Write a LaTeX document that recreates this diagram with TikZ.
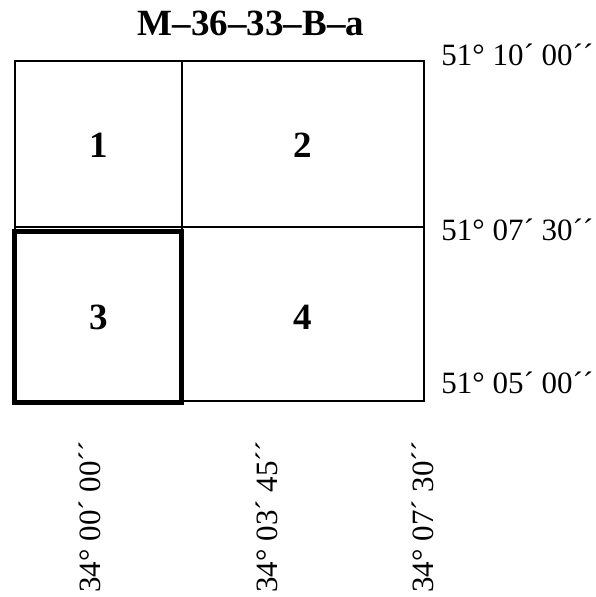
\documentclass[tikz,border=0pt]{standalone}
\usepackage{fontspec}
\setmainfont{Liberation Serif}
\begin{document}
\begin{tikzpicture}[x=1pt, y=-1pt, thick]
    \useasboundingbox (0,0) rectangle (595,597);
    % Sheet title
    \node[font=\fontsize{37}{40}\selectfont\bfseries, anchor=base] (title) at (251,35) {M–36–33–B–a};

    % Sheet frame split into quarters
    \draw[line width=1.3pt] (15,61) rectangle (424,401);
    \draw[line width=1.3pt] (182,61) -- (182,401);
    \draw[line width=1.3pt] (15,227) -- (424,227);
    % Selected quarter
    \draw[line width=5pt] (14.5,231) rectangle (181.5,402.5);

    % Quarter numbers
    \foreach \n/\x/\y in {1/98.5/145, 2/302.5/145, 3/98.5/317, 4/302.5/317}
        \node[font=\fontsize{37}{40}\selectfont\bfseries] (q\n) at (\x,\y) {\n};

    % Latitudes
    \foreach \t/\y [count=\i] in {51° 10´ 00´´/65, 51° 07´ 30´´/240, 51° 05´ 00´´/393}
        \node[anchor=base west, inner sep=0pt, font=\fontsize{31}{34}\selectfont] (lat\i) at (441,\y) {\t};

    % Longitudes
    \foreach \t/\x [count=\i] in {34° 00´ 00´´/100, 34° 03´ 45´´/277, 34° 07´ 30´´/433}
        \node[rotate=90, anchor=base west, inner sep=0pt, font=\fontsize{31}{34}\selectfont] (lon\i) at (\x,593) {\t};
\end{tikzpicture}
\end{document}
